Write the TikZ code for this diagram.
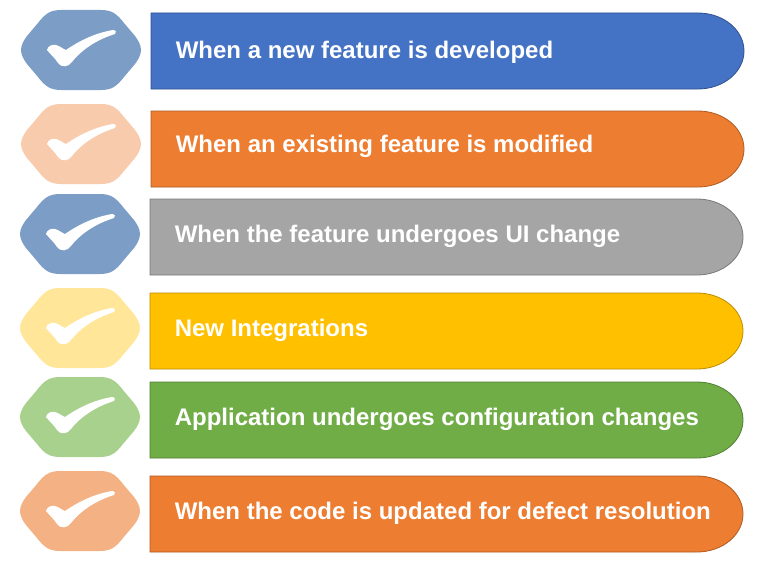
\documentclass[tikz,border=0pt]{standalone}
\usepackage{fontspec}
\setmainfont{Liberation Sans}
\definecolor{cBlue}{HTML}{4472C4}\definecolor{eBlue}{HTML}{2F528F}\definecolor{hBlue}{HTML}{7C9DC6}
\definecolor{cOrange}{HTML}{ED7D31}\definecolor{eOrange}{HTML}{AE5A21}\definecolor{hPeach}{HTML}{F8CBAD}
\definecolor{cGray}{HTML}{A5A5A5}\definecolor{eGray}{HTML}{787878}
\definecolor{cYellow}{HTML}{FFC000}\definecolor{eYellow}{HTML}{BC8C00}\definecolor{hYellow}{HTML}{FFE699}
\definecolor{cGreen}{HTML}{70AD47}\definecolor{eGreen}{HTML}{507E32}\definecolor{hGreen}{HTML}{A9D18E}
\definecolor{hOrange}{HTML}{F4B183}
\tikzset{
  barlabel/.style={anchor=west,text=white,inner sep=0pt,font=\fontsize{24}{26}\selectfont\bfseries},
  barshape/.style={line width=0.8pt},
}
\newcommand{\rowitem}[8]{% name, hex cx, hex cy, hex colour, bar x, bar top, fill, edge
  \begin{scope}[shift={(#2,#3)}]
    \fill[#4] (-60,0) .. controls (-60,-5) and (-57,-10) .. (-54,-14) -- (-43,-27)
      .. controls (-36,-36) and (-31,-40) .. (-20,-40) -- (20,-40)
      .. controls (31,-40) and (36,-36) .. (43,-27) -- (54,-14)
      .. controls (57,-10) and (60,-5) .. (60,0)
      .. controls (60,5) and (57,10) .. (54,14) -- (43,27)
      .. controls (36,36) and (31,40) .. (20,40) -- (-20,40)
      .. controls (-31,40) and (-36,36) .. (-43,27) -- (-54,14)
      .. controls (-57,10) and (-60,5) .. (-60,0) -- cycle;
    \fill[white] (-34,0) .. controls (-33,-4) and (-29,-6) .. (-25,-5)
      .. controls (-21,-4) and (-18,-1) .. (-15,0)
      .. controls (-2,-9) and (14,-17) .. (32,-20)
      .. controls (35,-20) and (36,-17) .. (34,-16)
      .. controls (18,-11) and (2,-2) .. (-9,12)
      .. controls (-12,17) and (-20,18) .. (-23,13)
      .. controls (-26,8) and (-30,5) .. (-34,0) -- cycle;
  \end{scope}
  \draw[barshape,fill=#7,draw=#8] (#5,#6) -- (#5+547,#6) arc[start angle=90,end angle=-90,x radius=46,y radius=-38] -- (#5,#6+76) -- cycle;
}
\begin{document}
\begin{tikzpicture}[x=1pt,y=-1pt]
\useasboundingbox (0,0) rectangle (775,578);
\rowitem{a}{81}{50}{hBlue}{151}{13}{cBlue}{eBlue}
\node[barlabel] (t1) at (175.6,52) {When a new feature is developed};
\rowitem{b}{81}{144}{hPeach}{151}{111}{cOrange}{eOrange}
\node[barlabel] (t2) at (175.6,146) {When an existing feature is modified};
\rowitem{c}{80}{234}{hBlue}{150}{199}{cGray}{eGray}
\node[barlabel] (t3) at (174.6,236) {When the feature undergoes UI change};
\rowitem{d}{80}{328}{hYellow}{150}{293}{cYellow}{eYellow}
\node[barlabel] (t4) at (174.6,330) {New Integrations};
\rowitem{e}{80}{417}{hGreen}{150}{382}{cGreen}{eGreen}
\node[barlabel] (t5) at (174.6,419) {Application undergoes configuration changes};
\rowitem{f}{80}{511}{hOrange}{150}{476}{cOrange}{eOrange}
\node[barlabel] (t6) at (174.6,513) {When the code is updated for defect resolution};
\end{tikzpicture}
\end{document}
